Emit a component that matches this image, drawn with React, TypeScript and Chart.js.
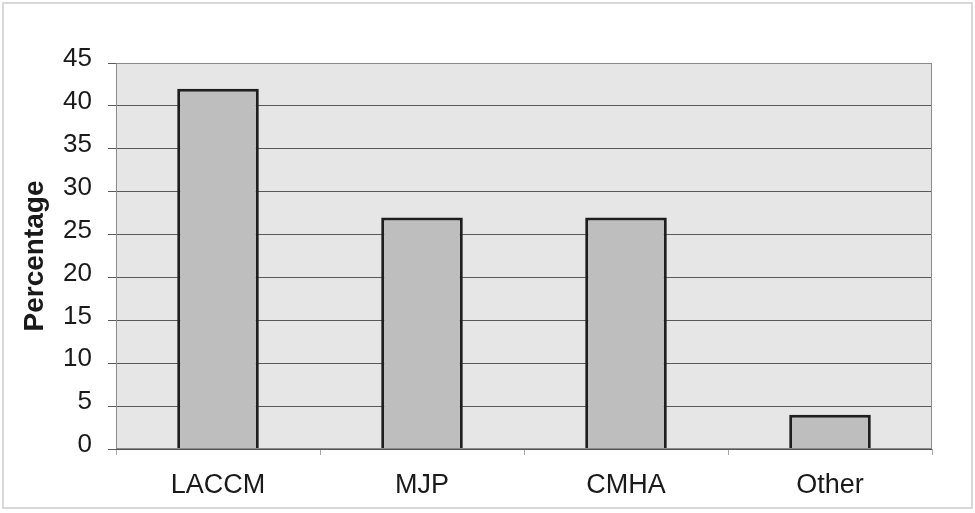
import React, { useEffect, useRef } from "react";
import { Chart, registerables } from "chart.js";

Chart.register(...registerables);

const categories = ["LACCM", "MJP", "CMHA", "Other"];
const percentages = [42, 27, 27, 4];
const yMin = 0;
const yMax = 45;
const yStep = 5;
const yTitle = "Percentage";

const FONT = "'Liberation Sans', Arial, sans-serif";

// Grey plot background plus a faint frame around the whole figure.
const framePlugin = {
  id: "frame",
  beforeDraw(chart: any) {
    const { ctx, chartArea } = chart;
    ctx.save();
    ctx.fillStyle = "#ffffff";
    ctx.fillRect(0, 0, chart.width, chart.height);
    ctx.strokeStyle = "#d8d8d8";
    ctx.lineWidth = 2;
    ctx.strokeRect(3, 3, chart.width - 6, chart.height - 8);
    ctx.fillStyle = "#e6e6e6";
    ctx.fillRect(chartArea.left, chartArea.top, chartArea.right - chartArea.left, chartArea.bottom - chartArea.top);
    ctx.restore();
  },
  afterDatasetsDraw(chart: any) {
    const { ctx, chartArea } = chart;
    ctx.save();
    ctx.strokeStyle = "#8a8a8a";
    ctx.lineWidth = 1;
    ctx.strokeRect(chartArea.left + 0.5, chartArea.top + 0.5, chartArea.right - chartArea.left - 1, chartArea.bottom - chartArea.top - 1);
    ctx.strokeStyle = "#555555";
    ctx.beginPath();
    ctx.moveTo(chartArea.left, chartArea.bottom + 0.5);
    ctx.lineTo(chartArea.right, chartArea.bottom + 0.5);
    ctx.stroke();
    ctx.restore();
  },
};

export default function App() {
  const canvasRef = useRef<HTMLCanvasElement>(null);

  useEffect(() => {
    document.body.style.margin = "0";
    const canvas = canvasRef.current;
    if (!canvas) return;
    const chart = new Chart(canvas, {
      type: "bar",
      data: {
        labels: categories,
        datasets: [
          {
            data: percentages,
            backgroundColor: "#bebebe",
            borderColor: "#1e1e1e",
            borderWidth: 3,
            borderSkipped: "bottom",
            barPercentage: 0.4,
            categoryPercentage: 1,
          },
        ],
      },
      options: {
        responsive: false,
        animation: false,
        events: [],
        layout: { padding: { left: 0, right: 43, top: 63, bottom: 0 } },
        plugins: {
          legend: { display: false },
          tooltip: { enabled: false },
        },
        scales: {
          x: {
            offset: true,
            grid: {
              offset: true,
              drawOnChartArea: false,
              drawTicks: true,
              tickLength: 6,
              color: "#aaaaaa",
            },
            border: { display: false },
            ticks: {
              color: "#1a1a1a",
              font: { family: FONT, size: 27 },
              padding: 14,
            },
            afterFit(scale: any) {
              scale.height = 64;
            },
          },
          y: {
            min: yMin,
            max: yMax,
            grid: {
              color: "#5a5a5a",
              lineWidth: 1,
              tickLength: 8,
            },
            border: { display: false },
            ticks: {
              stepSize: yStep,
              color: "#1a1a1a",
              font: { family: FONT, size: 26 },
              padding: 16,
              labelOffset: -4,
            },
            title: {
              display: true,
              text: yTitle,
              color: "#1a1a1a",
              font: { family: FONT, size: 28, weight: "bold" },
              padding: { top: 18, bottom: 0 },
            },
            afterFit(scale: any) {
              scale.width = 116;
            },
          },
        },
      },
      plugins: [framePlugin],
    });
    return () => chart.destroy();
  }, []);

  return (
    <div style={{ position: "absolute", left: 0, top: 0, width: 975, height: 513 }}>
      <canvas ref={canvasRef} width={975} height={513} />
    </div>
  );
}
